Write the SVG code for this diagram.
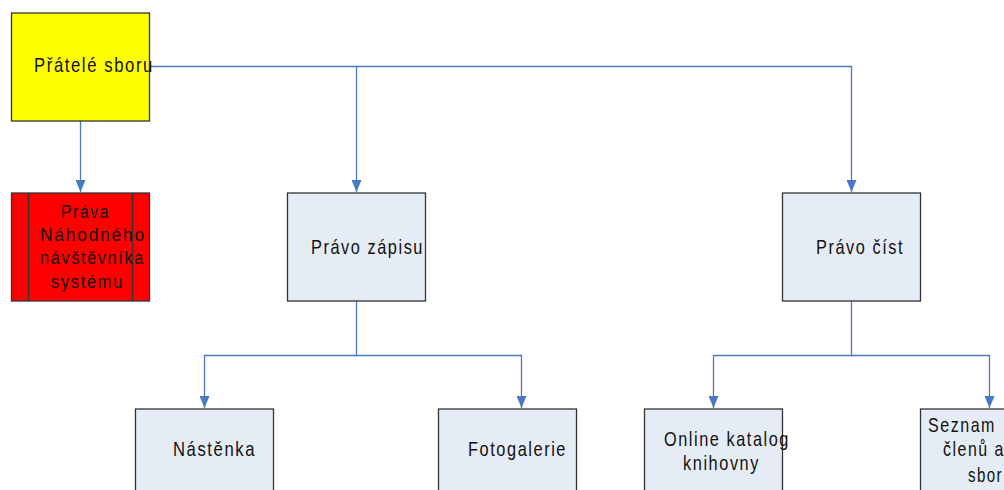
<svg xmlns="http://www.w3.org/2000/svg" width="1004" height="490" viewBox="0 0 1004 490">
<defs>
<style>
.box{fill:#E6ECF6;stroke:#333333;stroke-width:1.3}
.t{font-family:"Liberation Sans",Arial,sans-serif;font-size:21px;fill:#111111;letter-spacing:2px}
.ts{font-family:"Liberation Sans",Arial,sans-serif;font-size:19px;fill:#111111;letter-spacing:2px}
.c{fill:none;stroke:#4A78C2;stroke-width:1.3}
</style>
<marker id="ad" viewBox="0 0 10 12" refX="5" refY="12" markerWidth="10" markerHeight="12" markerUnits="userSpaceOnUse" orient="0">
<path d="M0,0 L10,0 L5,12 Z" fill="#4A78C2"/>
</marker>
</defs>
<rect width="1004" height="490" fill="#FFFFFF"/>
<g id="connectors">
<path class="c" d="M150,66.5 H851.5 V192" marker-end="url(#ad)"/>
<path class="c" d="M356.5,66.5 V192" marker-end="url(#ad)"/>
<path class="c" d="M80.5,121 V192" marker-end="url(#ad)"/>
<path class="c" d="M356.5,301 V355.5 H204.5 V408" marker-end="url(#ad)"/>
<path class="c" d="M356.5,355.5 H521.5 V408" marker-end="url(#ad)"/>
<path class="c" d="M851.5,301 V355.5 H713.5 V408" marker-end="url(#ad)"/>
<path class="c" d="M851.5,355.5 H989.5 V408" marker-end="url(#ad)"/>
</g>
<g id="node-pratele">
<rect x="11.5" y="13" width="138" height="108" fill="#FFFF00" stroke="#333333" stroke-width="1.3"/>
<text class="t" x="34" y="72" textLength="120" lengthAdjust="spacingAndGlyphs">Přátelé sboru</text>
</g>
<g id="node-prava-nahodneho">
<rect x="11.5" y="193" width="138" height="108" fill="#FF0000" stroke="#333333" stroke-width="1.3"/>
<line x1="28.5" y1="193" x2="28.5" y2="301" stroke="#333333" stroke-width="1.3"/>
<line x1="132.5" y1="193" x2="132.5" y2="301" stroke="#333333" stroke-width="1.3"/>
<text class="ts" x="61" y="218" textLength="49" lengthAdjust="spacingAndGlyphs">Práva</text>
<text class="ts" x="40" y="241" textLength="106" lengthAdjust="spacingAndGlyphs">Náhodného</text>
<text class="ts" x="40" y="264" textLength="105" lengthAdjust="spacingAndGlyphs">návštěvníka</text>
<text class="ts" x="51" y="288" textLength="73" lengthAdjust="spacingAndGlyphs">systému</text>
</g>
<g id="node-pravo-zapisu">
<rect class="box" x="287.5" y="193" width="138" height="108"/>
<text class="t" x="311" y="254" textLength="113" lengthAdjust="spacingAndGlyphs">Právo zápisu</text>
</g>
<g id="node-pravo-cist">
<rect class="box" x="782.5" y="193" width="138" height="108"/>
<text class="t" x="816" y="254" textLength="88" lengthAdjust="spacingAndGlyphs">Právo číst</text>
</g>
<g id="node-nastenka">
<rect class="box" x="135.5" y="409" width="138" height="108"/>
<text class="t" x="173" y="456" textLength="83" lengthAdjust="spacingAndGlyphs">Nástěnka</text>
</g>
<g id="node-fotogalerie">
<rect class="box" x="438.5" y="409" width="138" height="108"/>
<text class="t" x="468" y="456" textLength="99" lengthAdjust="spacingAndGlyphs">Fotogalerie</text>
</g>
<g id="node-online-katalog">
<rect class="box" x="644.5" y="409" width="138" height="108"/>
<text class="t" x="664" y="446" textLength="126" lengthAdjust="spacingAndGlyphs">Online katalog</text>
<text class="t" x="683" y="470" textLength="77" lengthAdjust="spacingAndGlyphs">knihovny</text>
</g>
<g id="node-seznam">
<rect class="box" x="920.5" y="409" width="138" height="108"/>
<text class="t" x="928" y="432" textLength="68" lengthAdjust="spacingAndGlyphs">Seznam</text>
<text class="t" x="943" y="456" textLength="62" lengthAdjust="spacingAndGlyphs">členů a</text>
<text class="t" x="968" y="482" textLength="35" lengthAdjust="spacingAndGlyphs">sbor</text>
</g>
</svg>
